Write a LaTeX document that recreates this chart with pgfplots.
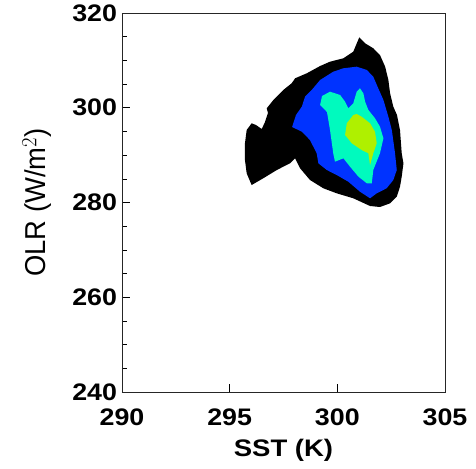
\documentclass[border=0pt]{standalone}
\usepackage{pgfplots}
\pgfplotsset{compat=1.18}
\usepackage{fontspec}
\setmainfont{Liberation Sans}
\definecolor{cblue}{RGB}{0,51,255}
\definecolor{ccyan}{RGB}{0,250,190}
\definecolor{cyel}{RGB}{175,240,0}
\begin{document}
\begin{tikzpicture}
\begin{axis}[
  scale only axis,
  width=323bp, height=379bp,
  xmin=290, xmax=305, ymin=240, ymax=320,
  xtick={290,295,300,305},
  ytick={240,260,280,300,320},
  minor ytick={245,250,255,265,270,275,285,290,295,305,310,315},
  tick pos=left,
  tick align=inside,
  major tick length=8bp,
  minor tick length=5bp,
  every tick/.style={black, line width=0.6pt},
  axis line style={line width=0.9pt, black!85},
  /pgf/number format/assume math mode=true,
  /pgf/number format/set thousands separator={},
  tick label style={font=\fontsize{24}{28}\selectfont\bfseries, xscale=1.12},
  xticklabel style={yshift=-13bp},
  yticklabel style={xshift=-1bp},
  xlabel={SST (K)},
  ylabel={\scalebox{1}[1.05]{OLR (W/m$^2$)}},
  xlabel style={font=\fontsize{24}{28}\selectfont\bfseries, xscale=1.15, at={(axis description cs:0.5,-0.153)}, anchor=center},
  ylabel style={font=\fontsize{27.5}{31}\selectfont, at={(axis description cs:-0.263,0.5)}, anchor=center},
  axis on top,
]
% black outer contour
\addplot[fill=black, draw=none] coordinates {
(301.02,314.87) (301.29,313.60) (301.67,312.55) (301.98,311.13) (302.22,308.67)
(302.37,305.86) (302.45,303.05) (302.60,300.22) (302.77,298.47) (302.91,295.30)
(302.99,290.39) (303.07,288.27) (302.99,285.45) (302.91,283.34) (302.76,281.22)
(302.45,279.83) (301.98,279.05) (301.52,279.26) (300.74,280.89) (299.97,281.94)
(299.35,283.00) (298.73,284.75) (298.27,287.22) (298.04,289.33) (297.80,288.27)
(297.19,286.86) (296.56,285.11) (296.02,283.69) (295.79,286.16) (295.71,288.97)
(295.71,292.50) (295.79,295.30) (296.02,296.72) (296.22,296.36) (296.49,295.51)
(296.64,296.99) (296.78,298.89) (296.72,299.88) (297.03,301.64) (297.49,303.75)
(297.88,305.16) (298.04,306.22) (298.58,307.27) (299.20,308.81) (299.66,309.72)
(300.28,310.44) (300.74,311.83)
} -- cycle;
% blue contour
\addplot[fill=cblue, draw=none] coordinates {
(300.90,308.67) (301.37,307.97) (301.67,306.55) (301.90,304.11) (302.14,301.64)
(302.37,298.11) (302.53,295.30) (302.68,290.39) (302.76,286.86) (302.60,284.75)
(302.29,283.00) (301.83,281.94) (301.52,280.89) (301.05,282.28) (300.51,284.39)
(299.97,285.80) (299.51,286.86) (299.12,288.27) (299.04,290.39) (298.73,293.19)
(298.35,294.94) (297.90,295.94) (298.08,298.47) (298.35,300.22) (298.50,302.33)
(298.81,303.75) (299.20,305.86) (299.81,307.61) (300.28,308.33)
} -- cycle;
% cyan contour
\addplot[fill=ccyan, draw=none] coordinates {
(299.29,302.48) (299.66,303.39) (300.13,302.69) (300.36,301.28) (300.51,299.88)
(300.74,300.94) (300.90,303.39) (301.05,304.11) (301.21,303.05) (301.29,301.28)
(301.44,299.53) (301.75,297.77) (301.98,296.00) (302.14,293.55) (301.98,290.39)
(301.67,286.86) (301.60,284.05) (301.37,284.05) (300.98,285.45) (300.59,287.56)
(300.28,289.33) (299.89,288.61) (299.81,290.39) (299.66,295.30) (299.52,299.10)
(299.20,300.58)
} -- cycle;
% yellow-green contour
\addplot[fill=cyel, draw=none] coordinates {
(300.74,298.47) (300.44,296.72) (300.36,294.25) (300.67,292.50) (301.13,291.08)
(301.44,290.39) (301.52,287.92) (301.67,290.39) (301.83,292.50) (301.75,294.94)
(301.52,296.72) (301.13,298.11) (300.90,298.68)
} -- cycle;
\end{axis}
\path (current axis.south west) ++(-122bp,-77bp) coordinate (bbA);
\path (current axis.north east) ++(31bp,13bp) coordinate (bbB);
\path (bbA) rectangle (bbB);
\end{tikzpicture}
\end{document}
